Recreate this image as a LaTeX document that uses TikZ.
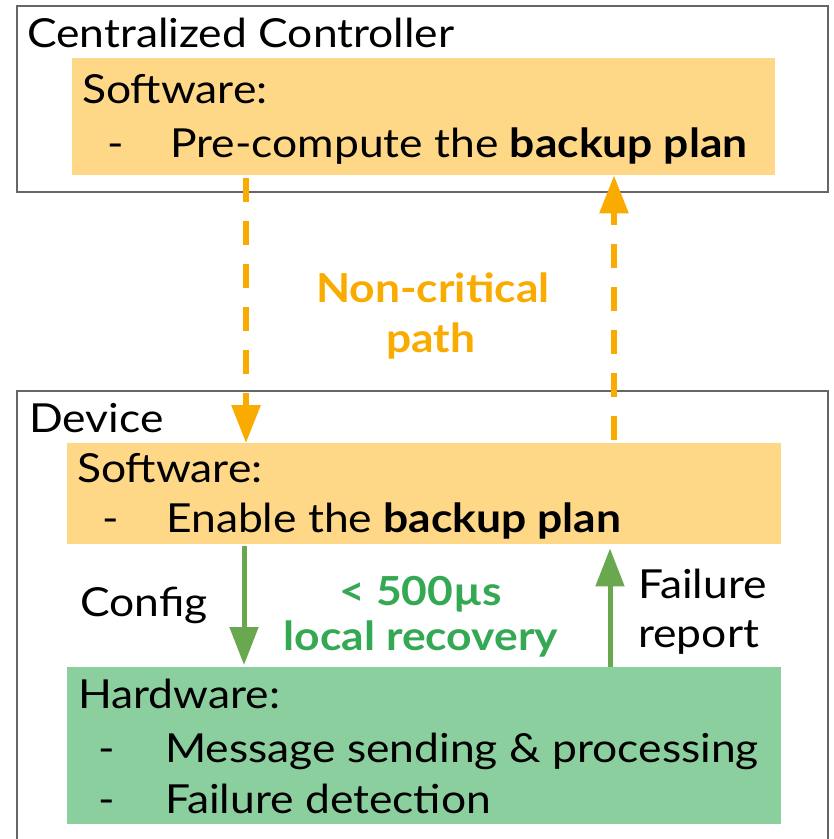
\documentclass[tikz,border=0pt]{standalone}
\usepackage{fontspec}
\setmainfont{Lato}[FakeStretch=1.11]
\usetikzlibrary{arrows.meta}

\definecolor{frame}{HTML}{666666}
\definecolor{swfill}{HTML}{FFD887}
\definecolor{hwfill}{HTML}{8CCF9F}
\definecolor{amber}{HTML}{F9AB00}
\definecolor{leaf}{HTML}{6AA84F}
\definecolor{okgreen}{HTML}{34A853}

\tikzset{
  outerbox/.style={draw=frame, line width=2pt, inner sep=0pt, anchor=north west},
  fillbox/.style={inner sep=0pt, anchor=north west},
  txt/.style={inner sep=0pt, anchor=base west, font=\fontsize{40}{48}\selectfont},
  ctxt/.style={inner sep=0pt, anchor=base, font=\fontsize{40}{48}\selectfont\bfseries},
  slowlink/.style={amber, line width=6pt, dash pattern=on 24pt off 19pt,
    -{Triangle[width=28pt,length=38pt]}},
  fastlink/.style={leaf, line width=5pt, -{Triangle[width=28pt,length=38pt]}}
}

\begin{document}
\begin{tikzpicture}[x=1pt,y=-1pt]
\useasboundingbox (0,0) rectangle (834,839);
\clip (0,0) rectangle (834,839);

% enclosing frames
\node[outerbox, minimum width=811pt, minimum height=186pt] (ctrl) at (16,5) {};
\node[outerbox, minimum width=811pt, minimum height=480pt] (dev) at (16,390) {};

% software and hardware blocks
\node[fillbox, fill=swfill, minimum width=703pt, minimum height=117pt] (ctrlsw) at (72,58) {};
\node[fillbox, fill=swfill, minimum width=714pt, minimum height=101pt] (devsw) at (67,443) {};
\node[fillbox, fill=hwfill, minimum width=714pt, minimum height=157pt] (devhw) at (67,667) {};

% block texts
\node[txt] (t1) at (27,47) {Centralized Controller};
\node[txt] (t2) at (82,103) {Software:};
\node[txt] (t3) at (107,157) {-};
\node[txt] (t4) at (170,157) {Pre-compute the \textbf{backup plan}};
\node[txt] (t5) at (29,432) {Device};
\node[txt] (t6) at (77,482) {Software:};
\node[txt] (t7) at (102,532) {-};
\node[txt] (t8) at (166,532) {Enable the \textbf{backup plan}};
\node[txt] (t9) at (78,708) {Hardware:};
\node[txt] (t10) at (98,762) {-};
\node[txt] (t11) at (165,762) {Message sending \& processing};
\node[txt] (t12) at (98,813) {-};
\node[txt] (t13) at (165,813) {Failure detection};

% arrow labels
\node[txt] (cfg) at (80,616) {Config};
\node[txt] (fr1) at (638,598) {Failure};
\node[txt] (fr2) at (638,647) {report};
\node[ctxt, text=amber] (nc1) at (433,302) {Non-critical};
\node[ctxt, text=amber] (nc2) at (431,352) {path};
\node[ctxt, text=okgreen] (lr1) at (421,605) {< 500µs};
\node[ctxt, text=okgreen] (lr2) at (421,650) {local recovery};

% connector columns
\coordinate (xdown) at (246,0);
\coordinate (xup) at (614,0);
\coordinate (gdown) at (244,0);
\coordinate (gup) at (610,0);

% controller <-> device (dashed)
\draw[slowlink, shorten <=3pt] (ctrlsw.south -| xdown) -- (devsw.north -| xdown);
\draw[slowlink, shorten <=3pt] (devsw.north -| xup) -- (ctrlsw.south -| xup);

% software <-> hardware
\draw[fastlink, shorten <=2pt, shorten >=2pt] (devsw.south -| gdown) -- (devhw.north -| gdown);
\draw[fastlink, shorten >=4pt] (devhw.north -| gup) -- (devsw.south -| gup);
\end{tikzpicture}
\end{document}
